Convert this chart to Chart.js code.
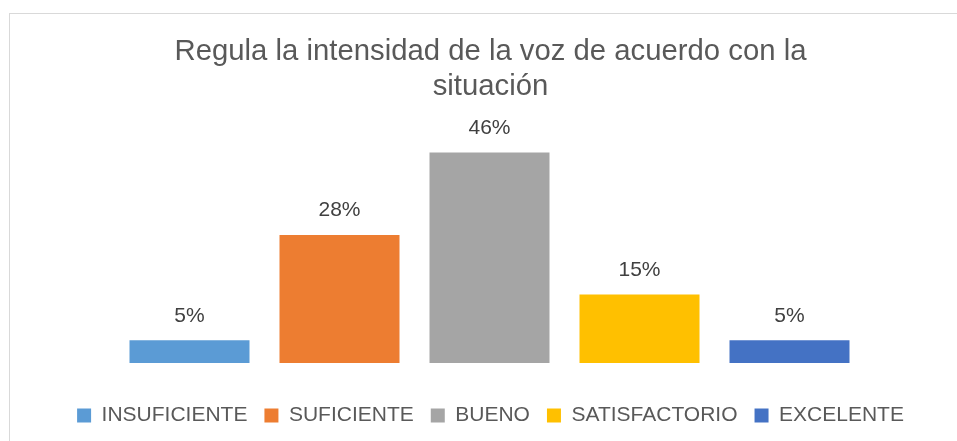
<!DOCTYPE html>
<html>
<head>
<meta charset="utf-8">
<script src="https://cdn.jsdelivr.net/npm/chart.js@4/dist/chart.umd.min.js"></script>
<style>
  html, body { margin: 0; padding: 0; background: #fff; }
  #frame {
    position: absolute; left: 9px; top: 13px; width: 948px; height: 428px;
    border-left: 1px solid #d9d9d9; border-top: 1px solid #d9d9d9;
    box-sizing: border-box;
  }
  #chart { position: absolute; left: 0; top: 0; }
</style>
</head>
<body>
<div id="frame"></div>
<canvas id="chart" width="957" height="441"></canvas>
<script>
'use strict';

// --- data ---
const CATEGORIES = ['INSUFICIENTE', 'SUFICIENTE', 'BUENO', 'SATISFACTORIO', 'EXCELENTE'];
const VALUES     = [5, 28, 46, 15, 5];
const COLORS     = ['#5B9BD5', '#ED7D31', '#A5A5A5', '#FFC000', '#4472C4'];
const TITLE      = ['Regula la intensidad de la voz de acuerdo con la', 'situación'];

Chart.defaults.font.family = '"Liberation Sans", Arial, sans-serif';

// percent labels above each bar
const valueLabels = {
  id: 'valueLabels',
  afterDatasetsDraw(chart) {
    const ctx = chart.ctx;
    ctx.save();
    ctx.font = '21px "Liberation Sans", Arial, sans-serif';
    ctx.fillStyle = '#404040';
    ctx.textAlign = 'center';
    ctx.textBaseline = 'alphabetic';
    chart.data.datasets.forEach((ds, i) => {
      chart.getDatasetMeta(i).data.forEach((bar, j) => {
        ctx.fillText(ds.data[j] + '%', bar.x, bar.y - 18.5);
      });
    });
    ctx.restore();
  }
};

const datasets = CATEGORIES.map((name, i) => ({
  label: name,
  data: [VALUES[i]],
  backgroundColor: COLORS[i],
  borderWidth: 0,
  categoryPercentage: 1.0,
  barPercentage: 0.8,
}));

const LEFT_PAD = 24;

// invisible spacer axis helper
function spacer(w) {
  return {
    display: true,
    grid: { display: false },
    border: { display: false },
    ticks: { display: false },
    afterFit(scale) { scale.width = w; },
  };
}

new Chart(document.getElementById('chart'), {
  type: 'bar',
  data: { labels: [''], datasets },
  options: {
    responsive: false,
    animation: false,
    devicePixelRatio: 1,
    layout: { padding: { left: LEFT_PAD, right: 0, top: 0, bottom: 5 } },
    plugins: {
      title: {
        display: true,
        text: TITLE,
        color: '#595959',
        font: { size: 29.3, weight: 'normal', lineHeight: 1.2 },
        padding: { top: 34, bottom: 30 },
      },
      legend: {
        position: 'bottom',
        labels: {
          color: '#595959',
          font: { size: 21 },
          boxWidth: 14,
          boxHeight: 14,
          padding: 17,
        }
      },
      tooltip: { enabled: false },
    },
    scales: {
      x: {
        display: true,
        grid: { display: false },
        border: { display: false },
        ticks: { display: false },
        afterFit(scale) { scale.height = 25; },
      },
      y: Object.assign(spacer(114.5 - LEFT_PAD), { min: 0, max: 50, position: 'left' }),
      yRight: Object.assign(spacer(92.5), { position: 'right' }),
    }
  },
  plugins: [valueLabels]
});
</script>
</body>
</html>
